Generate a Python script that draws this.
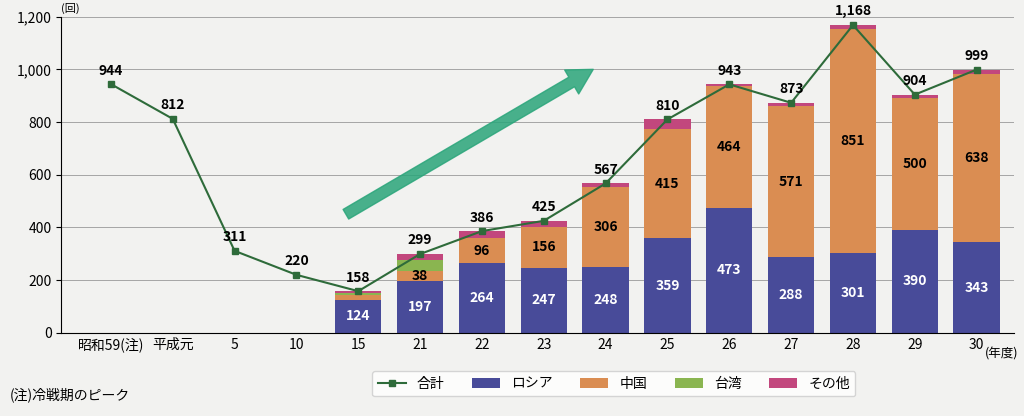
import numpy as np, pandas as pd, matplotlib
matplotlib.use("Agg")
import matplotlib.pyplot as plt, seaborn as sns

cats = ["昭和59(注)", "平成元", "5", "10", "15", "21", "22", "23", "24", "25", "26", "27", "28", "29", "30"]
total = [944, 812, 311, 220, 158, 299, 386, 425, 567, 810, 943, 873, 1168, 904, 999]
russia = [0]*4 + [124, 197, 264, 247, 248, 359, 473, 288, 301, 390, 343]
china = [0]*4 + [20, 38, 96, 156, 306, 415, 464, 571, 851, 500, 638]
taiwan = [0]*4 + [8, 40, 0, 0, 0, 0, 0, 0, 0, 0, 0]
other = [0]*4 + [6, 24, 26, 22, 13, 36, 6, 14, 16, 14, 18]

plt.rcParams["font.family"] = "Noto Sans CJK JP"
fig, ax = plt.subplots(figsize=(10.24, 4.16), dpi=100)
fig.patch.set_facecolor("#f2f2f0"); ax.set_facecolor("#f2f2f0")
df = pd.DataFrame({"cat": cats, "r": russia, "c": china, "t": taiwan, "o": other, "tot": total})
b1 = np.array(russia, float); b2 = b1 + np.array(china); b3 = b2 + np.array(taiwan)
kw = dict(x="cat", order=cats, width=0.75, edgecolor="white", linewidth=0.0, ax=ax)
sns.barplot(data=df, y="r", color="#3a3ea6", label="ロシア", **kw)
sns.barplot(data=df, y="c", bottom=b1, color="#f08a3c", label="中国", **kw)
sns.barplot(data=df, y="t", bottom=b2, color="#8dc63f", label="台湾", **kw)
sns.barplot(data=df, y="o", bottom=b3, color="#d6337a", label="その他", **kw)
x = np.arange(len(cats))
ax.plot(x, total, color="#2e6b3a", marker="s", ms=5, lw=1.5, label="合計")
for i in range(len(cats)):
    ax.text(i, total[i] + 25, f"{total[i]:,}", ha="center", va="bottom", fontsize=10, fontweight="bold")
    if russia[i] > 0:
        ax.text(i, russia[i]/2, str(russia[i]), ha="center", va="center", color="white", fontsize=10, fontweight="bold")
        if china[i] >= 30:
            ax.text(i, b1[i] + china[i]/2, str(china[i]), ha="center", va="center", fontsize=10, fontweight="bold")
ax.annotate("", xy=(7.8, 1000), xytext=(3.8, 450),
            arrowprops=dict(color="#2aa57a", width=8, headwidth=20, headlength=18, alpha=0.85))
ax.set_ylim(0, 1200); ax.set_yticks(range(0, 1201, 200))
ax.set_yticklabels([f"{v:,}" for v in range(0, 1201, 200)])
ax.yaxis.grid(True, color="#999999", lw=0.6); ax.set_axisbelow(True)
ax.set_xlabel(""); ax.set_ylabel("")
ax.text(-0.8, 1210, "(回)", fontsize=8, ha="left", va="bottom")
ax.text(14.4, -95, "(年度)", fontsize=9, ha="center")
for s in ["top", "right"]: ax.spines[s].set_visible(False)
ax.tick_params(axis="x", length=0)
ax.set_xlim(-0.8, 14.6)
ax.legend(loc="upper center", bbox_to_anchor=(0.58, -0.1), ncol=5, frameon=True, fontsize=10)
fig.text(0.01, 0.04, "(注)冷戦期のピーク", fontsize=10)
fig.subplots_adjust(left=0.06, right=0.99, top=0.96, bottom=0.2)
fig.savefig("out.png")
